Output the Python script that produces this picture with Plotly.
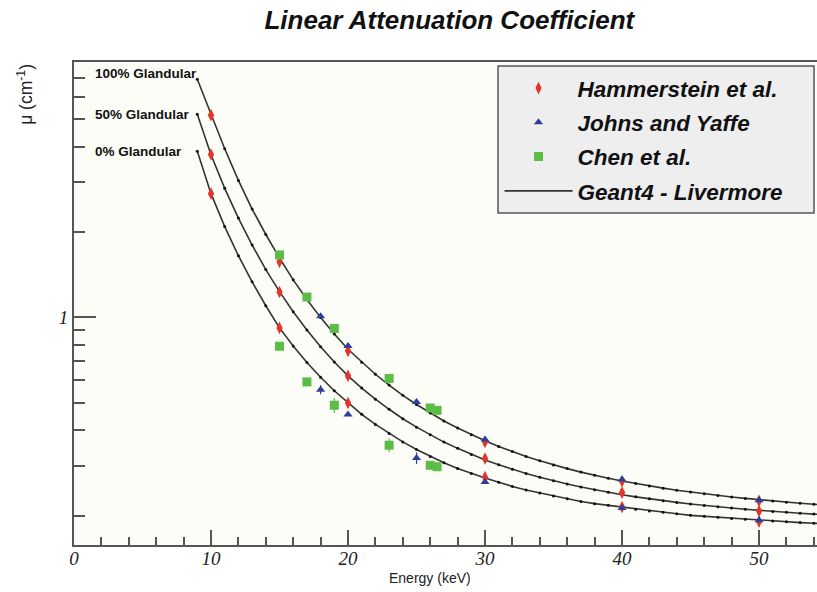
import math
import plotly.graph_objects as go

# ---------------- data ----------------
geant_energy = list(range(9, 57))
geant_100 = [6.90, 5.21, 3.93, 3.04, 2.41, 1.96, 1.62, 1.357, 1.157, 0.999, 0.874, 0.773,
             0.696, 0.631, 0.578, 0.532, 0.494, 0.461, 0.432, 0.408, 0.3865, 0.368, 0.351,
             0.337, 0.324, 0.313, 0.3026, 0.2936, 0.2854, 0.278, 0.2715, 0.2655, 0.260,
             0.255, 0.2506, 0.2465, 0.2428, 0.2393, 0.2362, 0.2333, 0.2306, 0.228, 0.2258,
             0.2237, 0.2217, 0.2199, 0.2182, 0.2166]
geant_50 = [5.20, 3.74, 2.85, 2.24, 1.80, 1.475, 1.233, 1.047, 0.903, 0.789, 0.697, 0.623,
            0.564, 0.5155, 0.475, 0.440, 0.411, 0.386, 0.364, 0.346, 0.3295, 0.315, 0.303,
            0.292, 0.282, 0.2735, 0.2658, 0.259, 0.2528, 0.2472, 0.2422, 0.2376, 0.2335,
            0.2298, 0.2263, 0.2232, 0.2204, 0.2177, 0.2153, 0.2132, 0.2111, 0.2092, 0.2075,
            0.2059, 0.2043, 0.203, 0.2017, 0.2005]
geant_0 = [3.85, 2.73, 2.09, 1.65, 1.335, 1.10, 0.919, 0.793, 0.694, 0.616, 0.552, 0.50,
           0.456, 0.420, 0.390, 0.3645, 0.343, 0.324, 0.308, 0.294, 0.282, 0.272, 0.263,
           0.254, 0.247, 0.241, 0.235, 0.230, 0.225, 0.221, 0.218, 0.214, 0.211, 0.208,
           0.206, 0.2035, 0.201, 0.1995, 0.198, 0.196, 0.1946, 0.193, 0.192, 0.1907,
           0.1895, 0.1885, 0.1876, 0.1867]
curve_labels = ["100% Glandular", "50% Glandular", "0% Glandular"]

ham_energy = [10, 15, 20, 30, 40, 50]
ham_100 = [5.16, 1.57, 0.763, 0.3645, 0.265, 0.226]
ham_50 = [3.75, 1.23, 0.623, 0.3185, 0.2417, 0.208]
ham_0 = [2.73, 0.919, 0.50, 0.274, 0.215, 0.191]

jy_energy = [18, 20, 25, 30, 40, 50]
jy_100 = [1.01, 0.794, 0.504, 0.372, 0.269, 0.227]
jy_0 = [0.557, 0.455, 0.320, 0.2635, 0.2134, 0.193]
jy_0_err = [0.02, 0.0, 0.015, 0.0, 0.0, 0.0]

chen_energy = [15, 17, 19, 23, 26, 26.5]
chen_100 = [1.66, 1.18, 0.915, 0.61, 0.48, 0.471]
chen_0 = [0.792, 0.593, 0.491, 0.355, 0.3016, 0.298]
chen_0_err = [0.0, 0.0, 0.03, 0.02, 0.0, 0.0]

y_minor_ticks = [0.2, 0.3, 0.4, 0.5, 0.6, 0.7, 0.8, 0.9, 2, 3, 4, 5, 6, 7]
x_tick_vals = [0, 10, 20, 30, 40, 50]

# ---------------- styling ----------------
RED = "#e5352b"
BLUE = "#2d3f99"
GREEN = "#5cbd46"
AX = "#555555"
SANS = "Liberation Sans, Arial, sans-serif"
SERIF = "Liberation Serif, Times New Roman, serif"

fig = go.Figure()

curves = [geant_100, geant_50, geant_0]
for i, cv in enumerate(curves):
    fig.add_trace(go.Scatter(
        x=geant_energy, y=cv, mode="lines",
        line=dict(color="#333333", width=1.6),
        name="Geant4 - Livermore", legendgroup="g4", legendrank=4,
        showlegend=(i == 0), hoverinfo="skip"))
    fig.add_trace(go.Scatter(
        x=geant_energy, y=cv, mode="markers",
        marker=dict(color="#111111", size=3, symbol="circle"),
        showlegend=False, hoverinfo="skip"))

fig.add_trace(go.Scatter(
    x=ham_energy * 3, y=ham_100 + ham_50 + ham_0, mode="markers",
    marker=dict(color=RED, size=9, symbol="diamond-tall"),
    name="Hammerstein et al.", legendgroup="ham", legendrank=1))
fig.add_trace(go.Scatter(
    x=jy_energy * 2, y=jy_100 + jy_0, mode="markers",
    marker=dict(color=BLUE, size=8, symbol="triangle-up"),
    error_y=dict(type="data", array=[0.0] * 6 + jy_0_err, color=BLUE, thickness=1.2, width=0),
    name="Johns and Yaffe", legendgroup="jy", legendrank=2))
fig.add_trace(go.Scatter(
    x=chen_energy * 2, y=chen_100 + chen_0, mode="markers",
    marker=dict(color=GREEN, size=9, symbol="square"),
    error_y=dict(type="data", array=[0.0] * 6 + chen_0_err, color=GREEN, thickness=1.2, width=0),
    name="Chen et al.", legendgroup="chen", legendrank=3,
    yaxis="y2"))

# curve labels, left-aligned near the y axis (log axis: annotation y in log10 units)
for i, (cv, lab) in enumerate(zip(curves, curve_labels)):
    fig.add_annotation(x=1.39, y=math.log10(cv[0]), yref="y", xref="x", text=lab,
                       showarrow=False, xanchor="left", yanchor="middle",
                       yshift=(6 if i == 0 else 0),
                       font=dict(family=SANS, size=13.5, color="#111111", weight="bold"))

# axis titles (ROOT-like placement)
fig.add_annotation(x=-0.066, y=0.934, xref="paper", yref="paper",
                   text="μ (cm<sup>-1</sup>)", textangle=-90, showarrow=False,
                   xanchor="center", yanchor="middle",
                   font=dict(family=SANS, size=17.5, color="#222222"))
fig.add_annotation(x=0.4795, y=-0.068, xref="paper", yref="paper",
                   text="Energy (keV)", showarrow=False,
                   xanchor="center", yanchor="middle",
                   font=dict(family=SANS, size=14, color="#222222"))

# legend box (drawn as a paper-space rectangle so it can be wider than the entries)
fig.add_shape(type="rect", xref="paper", yref="paper",
              x0=0.5707, x1=0.996, y0=0.6874, y1=0.9917, layer="below",
              fillcolor="#eeeeee", line=dict(color="#555555", width=1.5))

yrange = [-0.8013, 0.8998]
fig.update_layout(
    width=817, height=592,
    margin=dict(l=74, r=0, t=62, b=47),
    paper_bgcolor="white", plot_bgcolor="#fdfdf7",
    title=dict(text="Linear Attenuation Coefficient", x=0.55, y=0.966,
               xanchor="center", yanchor="middle", xref="container", yref="container",
               font=dict(family=SANS, size=26, color="#111111", weight="bold", style="italic")),
    xaxis=dict(range=[0, 54.23], tickvals=x_tick_vals, ticks="inside", ticklen=15,
               tickwidth=1.5, tickcolor=AX, showline=True, linecolor=AX, linewidth=2,
               mirror=True, showgrid=False, zeroline=False, ticklabelstandoff=-5,
               tickfont=dict(family=SERIF, size=19, color="#222222", style="italic"),
               minor=dict(dtick=2, ticks="inside", ticklen=8, tickwidth=1.5, tickcolor=AX,
                          showgrid=False)),
    yaxis=dict(type="log", range=yrange, tickvals=[1], ticktext=["1"], ticks="inside",
               ticklen=22, tickwidth=1.5, tickcolor=AX, showline=True, linecolor=AX,
               linewidth=2, showgrid=False, zeroline=False,
               tickfont=dict(family=SERIF, size=19, color="#222222", style="italic")),
    yaxis2=dict(type="log", range=yrange, overlaying="y", side="left", anchor="x",
                tickvals=y_minor_ticks, ticks="inside", ticklen=11, tickwidth=1.5,
                tickcolor=AX, showticklabels=False, showline=False, showgrid=False,
                zeroline=False),
    legend=dict(x=0.5727, y=0.9897, xanchor="left", yanchor="top",
                bgcolor="rgba(0,0,0,0)", borderwidth=0,
                font=dict(family=SANS, size=22.5, color="#111111", weight="bold", style="italic"),
                tracegroupgap=2, itemwidth=68, traceorder="grouped"),
    showlegend=True,
)

fig.write_html("out.html", config={"displayModeBar": False},
               post_script="document.body.style.margin='0';document.body.style.padding='0';")
